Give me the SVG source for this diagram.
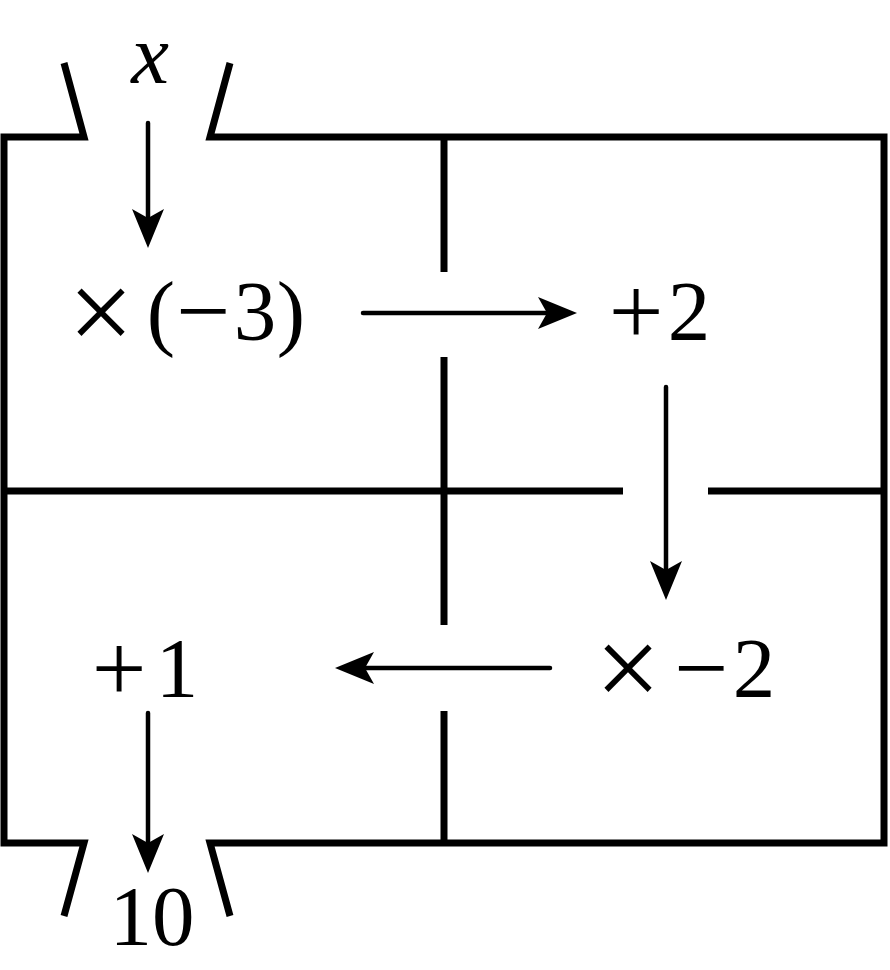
<svg xmlns="http://www.w3.org/2000/svg" width="890" height="970" viewBox="0 0 890 970">
<style>
.wall{fill:none;stroke:#000;stroke-width:7;stroke-linejoin:miter;stroke-linecap:butt}
.arr{fill:none;stroke:#000;stroke-width:4.5;stroke-linecap:round}
.lbl{font-family:"Liberation Serif","Times New Roman",serif;font-size:85px;fill:#000;text-anchor:middle}
.it{font-style:italic}
.op{font-size:116px}
.pl{font-size:97px}
.mi{font-size:96px}
</style>
<defs>
<marker id="ah" markerUnits="userSpaceOnUse" viewBox="-10 -17 42 34" markerWidth="42" markerHeight="34" refX="0" refY="0" orient="auto">
<path d="M30,0 L-9,-16 L0,0 L-9,16 Z" fill="#000"/>
</marker>
</defs>
<rect width="890" height="970" fill="#fff"/>
<g id="walls">
<path class="wall" d="M64,63 L84,137 L4,137 L4,843 L84,843 L64,916"/>
<path class="wall" d="M230,63 L210,137 L884,137 L884,843 L210,843 L230,916"/>
<path class="wall" d="M444,137 V272 M444,357 V625 M444,711 V843"/>
<path class="wall" d="M4,491 H623 M708,491 H884"/>
</g>
<g id="connectors">
<line class="arr" x1="148" y1="123" x2="148" y2="218" marker-end="url(#ah)"/>
<line class="arr" x1="363" y1="313" x2="547" y2="313" marker-end="url(#ah)"/>
<line class="arr" x1="666" y1="387" x2="666" y2="570" marker-end="url(#ah)"/>
<line class="arr" x1="550" y1="668" x2="365" y2="668" marker-end="url(#ah)"/>
<line class="arr" x1="148" y1="713" x2="148" y2="843" marker-end="url(#ah)"/>
</g>
<g id="node-x"><text class="lbl it" x="150" y="83">x</text></g>
<g id="node-times-neg3"><text class="lbl" y="340"><tspan class="op" x="101" y="351">×</tspan><tspan x="161" y="340">(</tspan><tspan class="mi" x="203" y="343">−</tspan><tspan x="255" y="340">3</tspan><tspan x="291">)</tspan></text></g>
<g id="node-plus2"><text class="lbl" y="340"><tspan class="pl" x="636" y="344">+</tspan><tspan x="689" y="340">2</tspan></text></g>
<g id="node-times-neg2"><text class="lbl" y="697"><tspan class="op" x="628" y="707">×</tspan><tspan class="mi" x="701" y="700">−</tspan><tspan x="754" y="697">2</tspan></text></g>
<g id="node-plus1"><text class="lbl" y="697"><tspan class="pl" x="119" y="701">+</tspan><tspan x="177" y="697">1</tspan></text></g>
<g id="node-10"><text class="lbl" x="152" y="945">10</text></g>
</svg>
